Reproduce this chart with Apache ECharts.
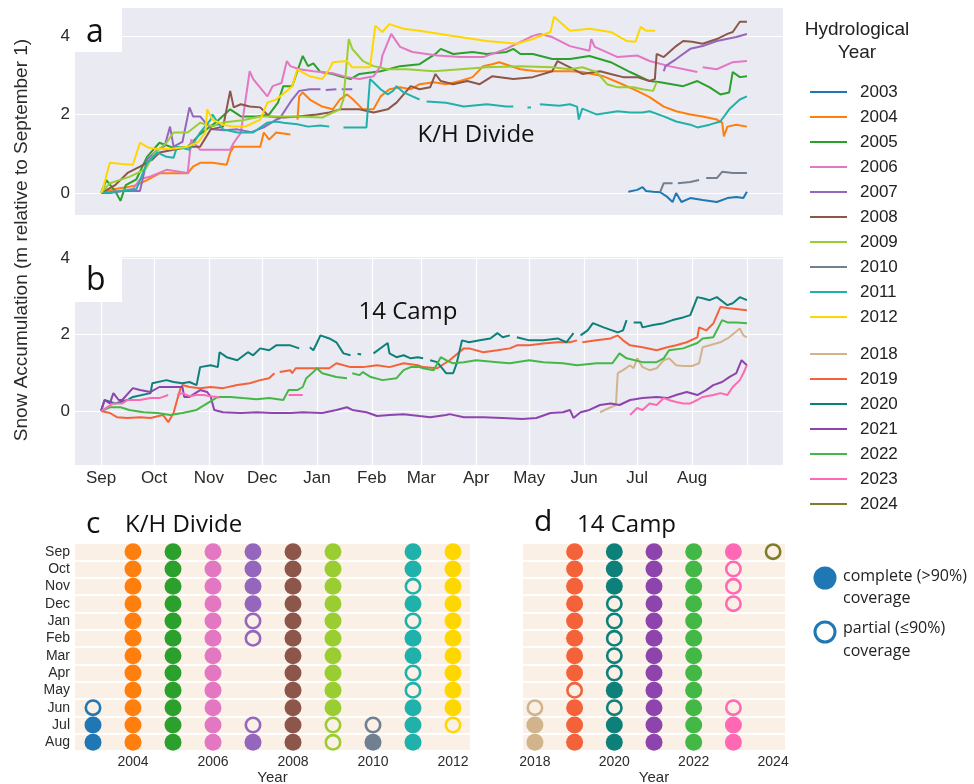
<!DOCTYPE html>
<html>
<head>
<meta charset="utf-8">
<script src="https://cdn.jsdelivr.net/npm/echarts@6/dist/echarts.min.js"></script>
<style>
  html, body { margin: 0; padding: 0; background: #ffffff; }
  #chart { width: 974px; height: 784px; }
</style>
</head>
<body>
<div id="chart"></div>
<script>
// ---- axis definitions -------------------------------------------------
const monthNames = ['Sep','Oct','Nov','Dec','Jan','Feb','Mar','Apr','May','Jun','Jul','Aug'];
// day of hydrological year (0 = September 1) at which each month begins
const monthStarts = [0, 30, 61, 91, 122, 153, 181, 212, 242, 273, 303, 334];
const yearLength = 365;
const accumTicks = [0, 2, 4];

// ---- K/H Divide station (panel a, c) -----------------------------------
const khYears  = ['2003','2004','2005','2006','2007','2008','2009','2010','2011','2012'];
const khColors = ['#1f77b4','#ff7f0e','#2ca02c','#e377c2','#9467bd','#8c564b','#9acd32','#708090','#20b2aa','#ffd700'];

// snow accumulation, [day of year, metres]; null marks a data gap
const kh2003 = [[298,0.03],[303,0.08],[306,0.15],[308,0.05],[312,0.03],[316,0.02],[320,-0.1],[323,-0.23],[325,0.0],[328,-0.23],[333,-0.13],[340,-0.18],[348,-0.23],[354,-0.13],[359,-0.1],[363,-0.13],[365,0.03]];
const kh2004 = [[0,0],[8,0.1],[15,0.15],[20,0.2],[26,0.33],[33,0.5],[49,0.5],[52,0.67],[56,0.77],[63,0.77],[71,0.72],[73,1.03],[75,1.18],[82,1.18],[90,1.18],[92,1.54],[95,1.36],[99,1.54],[107,1.49],null,[111,1.87],[112,2.46],[114,2.56],[118,2.38],[125,2.2],[131,2.13],[135,2.38],[139,2.51],[142,2.4],[148,2.13],[154,2.13],[158,2.46],[163,2.64],[169,2.69],[175,2.64],[180,2.77],[188,2.82],[195,2.77],[203,2.85],[210,2.95],[216,3.23],[221,3.28],[225,3.33],[237,3.15],[246,3.1],[254,3.1],[265,3.1],[272,3.08],[284,2.97],[292,2.82],[303,2.6],[310,2.44],[318,2.2],[325,2.08],[333,2.0],[340,1.95],[348,1.87],[351,1.79],[352,1.44],[354,1.69],[359,1.74],[365,1.69]];
const kh2005 = [[0,0],[3,0.33],[8,0.05],[11,-0.2],[14,0.2],[20,0.35],[26,0.92],[33,1.28],[41,1.15],[49,1.18],[56,1.5],[65,1.8],[73,2.13],[79,1.95],[88,1.95],[95,2.0],[100,2.3],[103,2.72],[108,2.72],[114,3.49],[117,3.23],[120,3.3],[124,3.08],[131,3.03],[135,2.97],[141,2.9],[146,3.03],[158,3.1],[169,3.23],[180,3.28],[189,3.54],[192,3.67],[199,3.54],[210,3.59],[218,3.54],[229,3.59],[233,3.67],[237,3.54],[244,3.54],[255,3.41],[265,3.41],[276,3.49],[288,3.33],[299,3.08],[310,2.85],[316,2.82],[329,2.72],[337,2.85],[344,2.69],[350,2.51],[355,2.56],[357,3.08],[361,2.95],[365,2.97]];
const kh2006 = [[0,0],[10,0.05],[18,0.1],[22,0.35],[28,0.42],[37,0.59],[49,0.51],[51,1.36],[56,1.1],[66,1.1],[73,1.1],[75,1.28],[79,1.53],[84,3.1],[86,2.9],[94,2.46],[97,2.72],[102,2.8],[105,3.36],[107,3.23],[112,3.15],[120,3.1],[131,3.05],[139,2.95],[146,2.9],[154,2.97],[158,3.23],[159,3.5],[164,4.05],[169,3.72],[176,3.59],[190,3.5],[203,3.46],[216,3.46],[229,3.67],[244,4.0],[248,4.05],[255,3.97],[265,3.74],[276,3.62],[277,3.92],[279,3.72],[292,3.46],[303,3.5],[310,3.36],[321,3.23],[337,3.08],null,[340,3.2],[348,3.15],[357,3.33],[365,3.36]];
const kh2007 = [[0,0],[5,0.0],[12,0.05],[22,0.05],[26,0.85],[32,1.1],[36,1.2],[39,1.69],[41,1.18],[46,1.3],[50,2.18],[52,1.95],[56,1.95],[59,1.79],[63,1.62],[70,1.6],[77,1.62],[85,1.55],[92,1.67],[99,1.87],[101,1.9],[108,2.38],[112,2.6],[118,2.64],[124,2.64],null,[127,2.62],[133,2.64],null,[136,2.64],[142,2.64],null,[318,3.1],[319,3.23],[325,3.41],[333,3.67],[340,3.74],[348,3.87],[359,3.97],[365,4.05]];
const kh2008 = [[0,0],[8,0.2],[15,0.51],[22,0.67],[29,0.85],[33,1.03],[41,1.1],[50,1.18],[56,1.18],[62,1.62],[69,1.69],[73,2.6],[75,2.18],[79,2.26],[84,2.2],[90,2.18],[95,1.95],[103,1.92],[111,1.95],[122,2.0],[129,2.05],[135,2.13],[146,2.13],[154,2.05],[162,2.13],[167,2.3],[171,2.51],[175,2.72],[180,2.64],[186,2.69],[189,3.03],[192,2.85],[199,2.77],[207,2.85],[214,2.77],[221,2.97],[233,2.9],[244,2.95],[255,3.1],[258,3.36],[265,3.2],[272,3.03],[282,3.1],[288,3.03],[295,2.95],[303,2.95],[310,2.85],[313,2.9],[314,3.54],[318,3.46],[325,3.74],[329,3.87],[334,3.85],[340,3.8],[348,3.92],[354,4.05],[357,4.1],[361,4.36],[365,4.36]];
const kh2009 = [[0,0],[5,0.25],[16,0.41],[25,0.6],[30,1.0],[37,1.28],[41,1.54],[49,1.54],[56,1.79],[63,1.7],[70,1.8],[80,1.85],[90,1.95],[99,1.95],[111,1.95],[125,1.92],[131,2.05],[135,2.13],[137,2.38],[140,3.92],[142,3.67],[148,3.36],[154,3.23],[162,3.15],[173,3.15],[188,3.1],[203,3.15],[218,3.2],[237,3.23],[255,3.2],[265,3.15],[272,3.2],[280,3.08],[286,2.77],[292,2.69],[301,2.69],[306,2.64],[312,2.6],[314,2.82]];
const kh2010 = [[316,0.03],[318,0.25],[323,0.25],null,[326,0.25],[333,0.28],[338,0.33],null,[342,0.38],[348,0.38],[351,0.54],[357,0.51],[365,0.51]];
const kh2011 = [[0,0],[5,0.02],[12,0.05],[20,0.1],[26,0.77],[32,1.03],[37,0.92],[41,0.9],[43,1.18],[50,1.1],[56,1.54],[62,1.87],[63,2.0],[66,1.79],[69,1.62],[77,1.54],[86,1.54],[94,1.79],[99,1.82],[103,1.79],[111,1.75],[117,1.69],[124,1.72],[129,1.69],null,[137,1.67],[150,1.67],[152,2.9],[154,2.82],[158,2.64],[162,2.51],[165,2.6],[167,2.72],[171,2.56],[176,2.46],[180,2.38],null,[184,2.33],[195,2.3],[205,2.2],[218,2.26],[229,2.2],[233,2.2],null,[241,2.18],[243,2.18],null,[248,2.26],[259,2.22],[265,2.26],[269,2.2],[270,1.87],[272,2.15],[280,2.0],[292,2.08],[299,2.05],[306,2.05],[310,2.08],[318,1.95],[325,1.82],[333,1.74],[337,1.67],[344,1.74],[350,1.82],[355,2.13],[361,2.38],[365,2.46]];
const kh2012 = [[0,0],[1,0.1],[5,0.77],[12,0.74],[18,0.72],[22,1.28],[27,1.15],[32,1.12],[39,1.12],[49,1.18],[55,1.3],[59,1.54],[60,2.13],[63,1.87],[69,1.74],[75,1.69],[82,1.7],[90,1.87],[94,2.3],[99,2.38],[105,2.6],[108,2.72],[111,3.15],[118,2.97],[125,2.9],[129,3.15],[131,3.33],[139,3.36],[142,3.2],[152,3.2],[155,4.26],[159,4.1],[163,4.3],[171,4.18],[180,4.13],[199,4.0],[218,3.87],[235,3.8],[244,3.92],[254,4.1],[256,4.49],[265,4.13],[276,4.18],[288,4.1],[297,3.87],[302,3.85],[305,4.23],[308,4.13],[313,4.13]];
const khSeriesData = [kh2003, kh2004, kh2005, kh2006, kh2007, kh2008, kh2009, kh2010, kh2011, kh2012];

// monthly coverage Sep..Aug: F = complete (>90%), P = partial, - = none
const khCoverage = ['---------PFF','FFFFFFFFFFFF','FFFFFFFFFFFF','FFFFFFFFFFFF','FFFFPP----PF','FFFFFFFFFFFF','FFFFFFFFFFPP','----------PF','FFPFPFFPPFFF','FFFFFFFFFFP-'];
const khYearTicks = [2004, 2006, 2008, 2010, 2012];

// ---- 14 Camp station (panel b, d) --------------------------------------
const campYears  = ['2018','2019','2020','2021','2022','2023','2024'];
const campColors = ['#d2b48c','#f4623a','#0d8079','#8e44ad','#44b846','#ff69b4','#7f7d2a'];

const camp2018 = [[282,-0.03],[288,0.1],[291,0.16],[292,0.99],[295,1.07],[299,1.2],[301,1.12],[303,1.38],[306,1.15],[310,1.07],[314,1.12],[318,1.33],[321,1.38],[325,1.2],[329,1.18],[334,1.18],[338,1.25],[340,1.67],[344,1.72],[350,1.8],[355,1.93],[361,2.16],[363,1.98],[365,1.93]];
const camp2019 = [[0,0],[5,-0.05],[9,-0.16],[15,-0.18],[22,-0.16],[28,-0.18],[35,-0.1],[38,-0.29],[41,-0.05],[43,0.29],[45,0.6],[46,0.68],[50,0.63],[56,0.6],[62,0.63],[69,0.6],[77,0.68],[84,0.73],[90,0.81],[95,0.86],[98,0.99],null,[101,1.02],[107,1.07],[108,0.99],[110,1.12],[116,1.12],[122,1.12],[129,1.12],[133,1.25],[141,1.15],[148,1.15],[156,1.2],[163,1.15],[171,1.25],[179,1.2],[182,1.15],[190,1.12],[197,1.33],[205,1.64],[208,1.64],[216,1.54],[224,1.59],[231,1.64],[235,1.72],[242,1.72],[250,1.77],[258,1.8],[265,1.8],[269,1.85],null,[272,1.8],[280,1.85],[288,1.9],[292,1.98],[295,1.85],[299,1.72],[306,1.67],[314,1.59],[320,1.67],[325,1.72],[331,1.8],[337,1.93],[338,2.19],[342,2.11],[346,2.29],[350,2.72],[351,2.77],[355,2.69],[365,2.64]];
const camp2020 = [[0,0],[2,0.29],[8,0.2],[15,0.29],[18,0.37],[28,0.47],[29,0.73],[37,0.81],[41,0.76],[46,0.73],[50,0.76],[54,0.68],[56,1.15],[62,1.2],[66,1.15],[67,1.54],[71,1.41],[77,1.33],[83,1.54],[86,1.46],[90,1.64],[95,1.59],[99,1.72],[107,1.72],[112,1.64],null,[118,1.67],[120,1.59],[122,1.78],[124,1.98],[129,1.9],[133,1.8],[137,1.51],[141,1.46],null,[145,1.5],[147,1.48],null,[154,1.51],[162,1.78],[163,1.51],[167,1.41],[171,1.46],[175,1.38],[179,1.41],[182,1.38],null,[186,1.33],[190,1.28],[195,0.99],[199,0.99],[201,1.25],[204,1.85],[208,1.8],[214,1.85],[220,1.9],[224,2.04],[227,1.93],[231,1.98],null,[235,1.93],[242,1.85],[250,1.85],[258,1.9],[263,1.8],[267,2.04],null,[271,1.98],[275,2.11],[278,2.3],[284,2.19],[292,2.06],[295,2.11],[297,2.38],null,[301,2.32],[305,2.32],[306,2.19],[312,2.25],[318,2.3],[323,2.38],[329,2.45],[333,2.51],[337,2.98],[340,2.95],[344,2.9],[348,2.98],[354,2.77],[357,2.82],[361,2.98],[365,2.9]];
const camp2021 = [[0,0],[2,0.29],[5,0.2],[7,0.47],[10,0.29],[12,0.29],[18,0.6],[22,0.55],[28,0.5],[33,0.63],[41,0.63],[46,0.63],[47,0.37],[50,0.37],[56,0.55],[60,0.5],[62,0.37],[64,0.03],[69,-0.03],[79,-0.05],[88,-0.03],[97,-0.05],[107,-0.05],[114,-0.03],[125,-0.05],[133,0.03],[139,0.1],[142,0.03],[150,-0.03],[156,-0.13],[163,-0.1],[171,-0.08],[180,-0.13],[186,-0.16],[195,-0.1],[197,-0.08],[205,-0.16],[216,-0.16],[227,-0.18],[238,-0.21],[246,-0.18],[254,-0.05],[261,-0.03],[265,0.03],[267,-0.18],[271,-0.03],[276,0.03],[282,0.16],[288,0.2],[293,0.16],[299,0.29],[306,0.34],[314,0.37],[320,0.34],[325,0.42],[331,0.5],[337,0.42],[342,0.55],[346,0.68],[351,0.76],[355,0.89],[359,0.99],[362,1.33],[365,1.2]];
const camp2022 = [[0,0],[5,0.1],[11,0.1],[16,0.03],[24,-0.03],[32,-0.05],[39,-0.1],[46,-0.05],[54,0.03],[60,0.2],[66,0.37],[67,0.42],[73,0.37],[80,0.34],[88,0.31],[95,0.34],[103,0.29],[106,0.55],[111,0.55],[114,0.63],[116,0.86],[120,1.02],[122,1.12],[125,0.99],[133,0.89],[139,0.86],null,[142,0.99],[146,0.94],[148,1.02],[152,0.9],[159,0.81],[167,0.86],[171,1.07],[175,1.15],[180,1.15],[182,1.12],[188,1.07],[192,1.41],[195,1.33],[199,1.25],[205,1.28],[212,1.33],[224,1.28],[231,1.25],[242,1.33],[250,1.28],[261,1.25],[269,1.2],[280,1.25],[289,1.25],[293,1.51],[297,1.38],[306,1.28],[314,1.28],[318,1.38],[321,1.59],[329,1.64],[337,1.78],[340,1.9],[346,1.93],[351,2.38],[354,2.32],[359,2.32],[365,2.3]];
const camp2023 = [[0,0],[1,0.03],[7,0.2],[12,0.2],[15,0.29],[22,0.29],[28,0.34],[33,0.34],[38,0.42],null,[43,0.42],[46,0.47],[50,0.39],[54,0.42],[58,0.42],[62,0.39],[66,0.37],[67,0.34],null,[106,0.42],[111,0.42],[114,0.42],null,[299,-0.1],[303,0.08],[306,0.03],[310,0.2],[314,0.16],[318,0.34],[321,0.29],[325,0.24],[329,0.2],[333,0.2],[337,0.29],[340,0.37],[346,0.42],[350,0.47],[354,0.42],[357,0.63],[361,0.81],[363,0.99],[365,1.2]];
const camp2024 = [];
const campSeriesData = [camp2018, camp2019, camp2020, camp2021, camp2022, camp2023, camp2024];

const campCoverage = ['---------PFF','FFFFFFFFPFFF','FFFPPPPPFPFF','FFFFFFFFFFFF','FFFFFFFFFFFF','FPPP-----PFF','P-----------'];
const campYearTicks = [2018, 2020, 2022, 2024];

// ---- styling helpers ---------------------------------------------------
const axisFont = "'Liberation Sans', Arial, Helvetica, sans-serif";
const inkColor = '#2b2b2b';

function asLine(points) {
  return points.map(p => (p === null ? ['-', '-'] : p));
}

function lineSeries(names, colors, datasets, axisIdx) {
  return names.map((name, i) => ({
    name: name,
    type: 'line',
    xAxisIndex: axisIdx,
    yAxisIndex: axisIdx,
    data: asLine(datasets[i]),
    showSymbol: false,
    symbol: 'none',
    connectNulls: false,
    color: colors[i],
    lineStyle: { width: 2, color: colors[i] },
    emphasis: { disabled: true },
    z: 2 + i
  }));
}

function coverageSeries(years, colors, coverage, axisIdx) {
  const full = [], part = [];
  years.forEach((y, i) => {
    coverage[i].split('').forEach((flag, m) => {
      if (flag === 'F') full.push({ value: [Number(y), m], itemStyle: { color: colors[i], opacity: 1 } });
      if (flag === 'P') part.push({ value: [Number(y), m], itemStyle: { color: 'rgba(0,0,0,0)', borderColor: colors[i], borderWidth: 2.6, opacity: 1 } });
    });
  });
  return [
    { name: 'complete', type: 'scatter', xAxisIndex: axisIdx, yAxisIndex: axisIdx, symbol: 'circle', symbolSize: 17, itemStyle: { opacity: 1 }, data: full, emphasis: { disabled: true }, clip: false },
    { name: 'partial', type: 'scatter', xAxisIndex: axisIdx, yAxisIndex: axisIdx, symbol: 'circle', symbolSize: 14.4, itemStyle: { opacity: 1 }, data: part, emphasis: { disabled: true }, clip: false }
  ];
}

const timeAxisBase = {
  type: 'value',
  min: -14.7,
  max: 385.4,
  axisLine: { show: false },
  axisTick: { show: false, customValues: monthStarts.concat([yearLength]) },
  splitLine: { show: true, lineStyle: { color: '#ffffff', width: 1.2 } }
};

const yearLabel = { fontSize: 14, color: inkColor, margin: 4, fontFamily: axisFont, formatter: v => String(v) };

const gridBase = { show: true, borderWidth: 0, containLabel: false, outerBoundsMode: 'none' };

const chart = echarts.init(document.getElementById('chart'), null, { renderer: 'canvas' });

const option = {
  animation: false,
  backgroundColor: '#ffffff',
  textStyle: { fontFamily: axisFont },
  grid: [
    Object.assign({ left: 75, top: 8, width: 708, height: 207, backgroundColor: '#eaeaf2' }, gridBase),
    Object.assign({ left: 75, top: 257, width: 708, height: 208, backgroundColor: '#eaeaf2' }, gridBase),
    Object.assign({ left: 75, top: 543, width: 395, height: 208, backgroundColor: '#faf0e6' }, gridBase),
    Object.assign({ left: 523, top: 543, width: 262, height: 208, backgroundColor: '#faf0e6' }, gridBase)
  ],
  xAxis: [
    Object.assign({}, timeAxisBase, { gridIndex: 0, axisLabel: { show: false }, splitLine: { show: false } }),
    Object.assign({}, timeAxisBase, {
      gridIndex: 1,
      axisLabel: {
        customValues: monthStarts,
        formatter: v => monthNames[monthStarts.indexOf(v)],
        fontSize: 17, color: inkColor, margin: 5, fontFamily: axisFont
      }
    }),
    {
      gridIndex: 2, type: 'value', min: 2002.55, max: 2012.425,
      axisLine: { show: false },
      axisTick: { show: false, customValues: khYearTicks },
      splitLine: { show: false },
      axisLabel: Object.assign({ customValues: khYearTicks }, yearLabel),
      name: 'Year', nameLocation: 'middle', nameGap: 18,
      nameTextStyle: { fontSize: 15, color: inkColor, fontFamily: axisFont }
    },
    {
      gridIndex: 3, type: 'value', min: 2017.7, max: 2024.3,
      axisLine: { show: false },
      axisTick: { show: false, customValues: campYearTicks },
      splitLine: { show: false },
      axisLabel: Object.assign({ customValues: campYearTicks }, yearLabel),
      name: 'Year', nameLocation: 'middle', nameGap: 18,
      nameTextStyle: { fontSize: 15, color: inkColor, fontFamily: axisFont }
    }
  ],
  yAxis: [
    {
      gridIndex: 0, type: 'value', min: -0.56, max: 4.71,
      axisLine: { show: false },
      axisTick: { show: false, customValues: accumTicks },
      axisLabel: { customValues: accumTicks, fontSize: 17, color: inkColor, margin: 5, fontFamily: axisFont },
      splitLine: { show: true, lineStyle: { color: '#ffffff', width: 1.2 } }
    },
    {
      gridIndex: 1, type: 'value', min: -1.41, max: 4.03,
      axisLine: { show: false },
      axisTick: { show: false, customValues: accumTicks },
      axisLabel: { customValues: accumTicks, fontSize: 17, color: inkColor, margin: 5, fontFamily: axisFont },
      splitLine: { show: true, lineStyle: { color: '#ffffff', width: 1.2 } }
    },
    {
      gridIndex: 2, type: 'category', data: monthNames, inverse: true,
      axisLine: { show: false }, axisTick: { show: false },
      axisLabel: { interval: 0, fontSize: 14, color: inkColor, margin: 5, fontFamily: axisFont },
      splitLine: { show: true, interval: 0, lineStyle: { color: '#ffffff', width: 2 } }
    },
    {
      gridIndex: 3, type: 'category', data: monthNames, inverse: true,
      axisLine: { show: false }, axisTick: { show: false },
      axisLabel: { show: false, interval: 0 },
      splitLine: { show: true, interval: 0, lineStyle: { color: '#ffffff', width: 2 } }
    }
  ],
  legend: [
    {
      data: khYears, orient: 'vertical', left: 810, top: 82, padding: 0,
      icon: 'rect', itemWidth: 37, itemHeight: 2, itemGap: 5, selectedMode: false,
      textStyle: { fontSize: 17, lineHeight: 20, color: '#222', fontFamily: axisFont, padding: [0, 0, 0, 8] }
    },
    {
      data: campYears, orient: 'vertical', left: 810, top: 344, padding: 0,
      icon: 'rect', itemWidth: 37, itemHeight: 2, itemGap: 5, selectedMode: false,
      textStyle: { fontSize: 17, lineHeight: 20, color: '#222', fontFamily: axisFont, padding: [0, 0, 0, 8] }
    }
  ],
  series: []
    .concat(lineSeries(khYears, khColors, khSeriesData, 0))
    .concat(lineSeries(campYears, campColors, campSeriesData, 1))
    .concat(coverageSeries(khYears, khColors, khCoverage, 2))
    .concat(coverageSeries(campYears, campColors, campCoverage, 3)),
  graphic: [
    // panel letter boxes
    { type: 'rect', shape: { x: 75, y: 8, width: 47, height: 44 }, style: { fill: '#ffffff' }, z: 50 },
    { type: 'text', x: 86, y: 33, z: 51, style: { text: 'a', font: "32px 'Open Sans', sans-serif", fill: '#111', verticalAlign: 'middle' } },
    { type: 'rect', shape: { x: 75, y: 257, width: 47, height: 45 }, style: { fill: '#ffffff' }, z: 50 },
    { type: 'text', x: 86, y: 281, z: 51, style: { text: 'b', font: "32px 'Open Sans', sans-serif", fill: '#111', verticalAlign: 'middle' } },
    // station names inside the plots
    { type: 'text', x: 476, y: 135, z: 51, style: { text: 'K/H Divide', font: "24px 'Open Sans', sans-serif", fill: '#111', align: 'center', verticalAlign: 'middle' } },
    { type: 'text', x: 408, y: 312, z: 51, style: { text: '14 Camp', font: "24px 'Open Sans', sans-serif", fill: '#111', align: 'center', verticalAlign: 'middle' } },
    // shared y-axis title
    { type: 'text', x: 22, y: 240, rotation: Math.PI / 2, z: 51, style: { text: 'Snow Accumulation (m relative to September 1)', font: "19px 'Liberation Sans', Arial, sans-serif", fill: inkColor, align: 'center', verticalAlign: 'middle' } },
    // coverage panel titles
    { type: 'text', x: 86, y: 524, z: 51, style: { text: 'c', font: "30px 'Open Sans', sans-serif", fill: '#111', verticalAlign: 'middle' } },
    { type: 'text', x: 125, y: 525, z: 51, style: { text: 'K/H Divide', font: "24px 'Open Sans', sans-serif", fill: '#111', verticalAlign: 'middle' } },
    { type: 'text', x: 534, y: 522, z: 51, style: { text: 'd', font: "30px 'Open Sans', sans-serif", fill: '#111', verticalAlign: 'middle' } },
    { type: 'text', x: 577, y: 525, z: 51, style: { text: '14 Camp', font: "24px 'Open Sans', sans-serif", fill: '#111', verticalAlign: 'middle' } },
    // line legend title
    { type: 'text', x: 857, y: 30, z: 51, style: { text: 'Hydrological', font: "19px 'Liberation Sans', Arial, sans-serif", fill: '#222', align: 'center', verticalAlign: 'middle' } },
    { type: 'text', x: 857, y: 53, z: 51, style: { text: 'Year', font: "19px 'Liberation Sans', Arial, sans-serif", fill: '#222', align: 'center', verticalAlign: 'middle' } },
    // coverage key
    { type: 'circle', shape: { cx: 825, cy: 578, r: 11.5 }, style: { fill: '#1f77b4' }, z: 51 },
    { type: 'circle', shape: { cx: 825, cy: 632, r: 10 }, style: { fill: 'none', stroke: '#1f77b4', lineWidth: 3 }, z: 51 },
    { type: 'text', x: 843, y: 576, z: 51, style: { text: 'complete (>90%)', font: "16px 'Open Sans', sans-serif", fill: '#222', verticalAlign: 'middle' } },
    { type: 'text', x: 843, y: 598, z: 51, style: { text: 'coverage', font: "16px 'Open Sans', sans-serif", fill: '#222', verticalAlign: 'middle' } },
    { type: 'text', x: 843, y: 628, z: 51, style: { text: 'partial (\u226490%)', font: "16px 'Open Sans', sans-serif", fill: '#222', verticalAlign: 'middle' } },
    { type: 'text', x: 843, y: 651, z: 51, style: { text: 'coverage', font: "16px 'Open Sans', sans-serif", fill: '#222', verticalAlign: 'middle' } }
  ]
};

chart.setOption(option);
</script>
</body>
</html>
